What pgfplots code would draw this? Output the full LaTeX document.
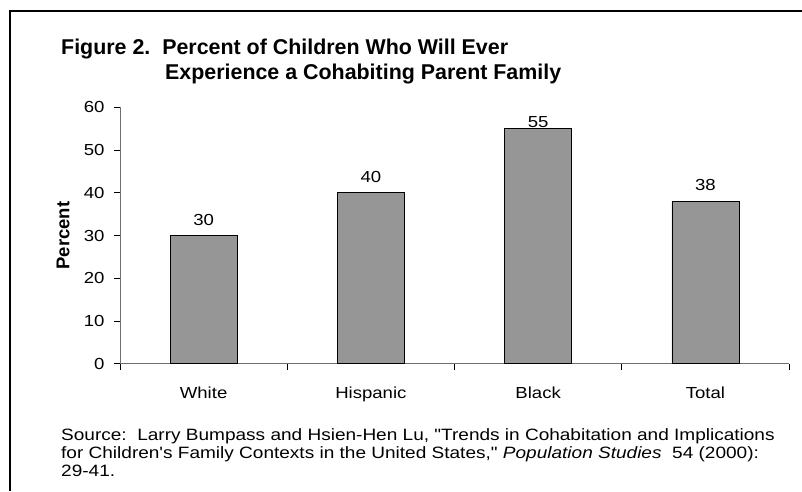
\documentclass[border=0pt]{standalone}
\usepackage{graphicx}
\usepackage{pgfplots}
\pgfplotsset{compat=1.18}
\usepackage{pgfplotstable}
\usepackage{fontspec}
\setmainfont{Liberation Sans}
\definecolor{barfill}{RGB}{150,150,150}
\definecolor{axgray}{RGB}{110,110,110}
\newcommand{\sx}[1]{\scalebox{1.16}[1]{#1}}
\pgfplotstableread{
x y off
0 30 16
1 40 16
2 55 7
3 38 16
}\datatable
\begin{document}
\begin{tikzpicture}
\useasboundingbox (0,0) rectangle (802pt,491pt);
\fill[white] (0,0) rectangle (802pt,491pt);
\draw[line width=2.5pt] (10pt,0pt) -- (10pt,480pt) -- (802pt,480pt);
\node[anchor=base west, inner sep=0pt, font=\fontsize{21.4}{24}\selectfont\bfseries] at (61pt,436pt) {Figure 2.\ \ Percent of Children Who Will Ever};
\node[anchor=base west, inner sep=0pt, font=\fontsize{21.4}{24}\selectfont\bfseries] at (165pt,411pt) {Experience a Cohabiting Parent Family};
\node[anchor=base west, inner sep=0pt, font=\fontsize{16.4}{19}\selectfont] at (61pt,51pt) {\sx{Source:\ \ Larry Bumpass and Hsien-Hen Lu, \textquotedbl Trends in Cohabitation and Implications}};
\node[anchor=base west, inner sep=0pt, font=\fontsize{16.4}{19}\selectfont] at (61pt,33pt) {\sx{for Children\textquotesingle s Family Contexts in the United States,\textquotedbl\ \textit{Population Studies}\ \ 54 (2000):}};
\node[anchor=base west, inner sep=0pt, font=\fontsize{16.4}{19}\selectfont] at (61pt,15pt) {\sx{29-41.}};
\begin{axis}[
  at={(120pt,127.3pt)}, anchor=south west,
  scale only axis, width=669pt, height=256.4pt,
  xmin=-0.5, xmax=3.5, ymin=0, ymax=60,
  ytick={0,10,...,60},
  yticklabel={\sx{\pgfmathprintnumber{\tick}}},
  xtick={-0.5,0.5,1.5,2.5,3.5},
  xticklabels={},
  extra x ticks={0,1,2,3},
  extra x tick labels={\sx{White},\sx{Hispanic},\sx{Black},\sx{Total}},
  extra x tick style={tick style={draw=none}},
  axis x line*=bottom, axis y line*=left,
  axis line style={-, axgray, line width=0.8pt},
  tick align=outside,
  major tick length=6pt,
  tick style={black, line width=0.8pt},
  tick label style={font=\fontsize{16}{19}\selectfont},
  yticklabel style={anchor=east, xshift=-6pt},
  xticklabel style={anchor=base, yshift=-29pt},
  ylabel={Percent},
  ylabel style={at={(axis description cs:-0.085,0.5)}, anchor=center, font=\fontsize{18.5}{21}\selectfont\bfseries},
  /pgf/number format/assume math mode=true,
  ybar, bar width=67pt,
  nodes near coords={\sx{\pgfmathprintnumber{\pgfplotspointmeta}}},
  visualization depends on={\thisrow{off}\as\myoff},
  nodes near coords style={anchor=center, yshift=\myoff pt, font=\fontsize{16}{19}\selectfont, black},
]
\addplot[fill=barfill, draw=black, line width=0.6pt] table[x=x,y=y] {\datatable};
\end{axis}
\end{tikzpicture}
\end{document}
